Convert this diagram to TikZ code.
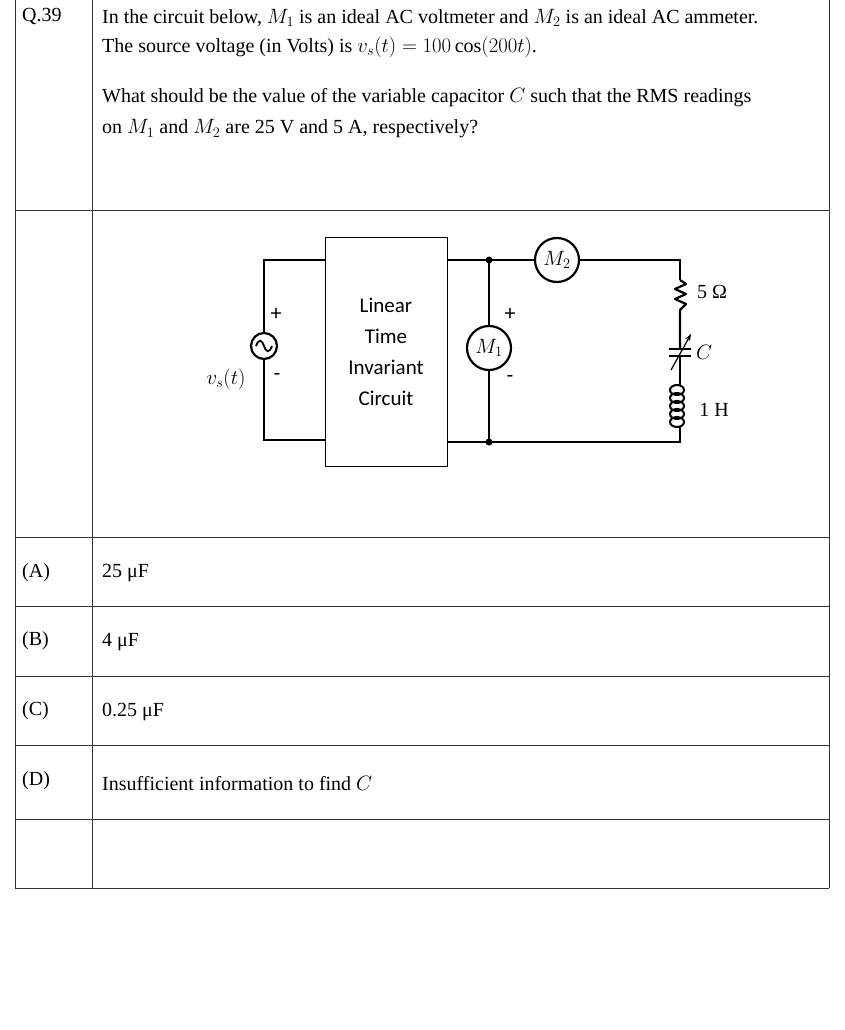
\documentclass[tikz,border=0pt]{standalone}
\usepackage{fontspec}
\setmainfont{Liberation Serif}
\newfontfamily\carl{Carlito}
\usetikzlibrary{arrows.meta}
\begin{document}
\begin{tikzpicture}[x=1pt,y=-1pt,
  grid/.style={draw=black!80,line width=0.8pt},
  wire/.style={line width=2.2pt},
  txt/.style={anchor=west,font=\fontsize{20}{24}\selectfont,inner sep=0},
  lab/.style={font=\fontsize{20}{24}\selectfont},
  meter/.style={circle,draw,line width=2.2pt,fill=white,minimum size=44pt,inner sep=0,font=\fontsize{20}{24}\selectfont}]
\useasboundingbox[fill=white] (0,0) rectangle (845,1030);
% table
\foreach \y in {210,537,606,676,745,819,888} \draw[grid] (15,\y) -- (829,\y);
\draw[grid] (15,0) -- (15,888);
\draw[grid] (92,0) -- (92,888);
\draw[grid] (829,0) -- (829,888);
\node[txt] (q) at (22,17) {Q.39};
\node[txt] (t1) at (102,18) {In the circuit below, $M_1$ is an ideal AC voltmeter and $M_2$ is an ideal AC ammeter.};
\node[txt] (t2) at (102,47) {The source voltage (in Volts) is $v_s(t)=100\cos(200t)$.};
\node[txt] (t3) at (102,98) {What should be the value of the variable capacitor $C$ such that the RMS readings};
\node[txt] (t4) at (102,129) {on $M_1$ and $M_2$ are 25 V and 5 A, respectively?};
\node[txt] (la) at (22,573) {(A)}; \node[txt] (a) at (102,573) {25 μF};
\node[txt] (lb) at (22,641) {(B)}; \node[txt] (b) at (102,642) {4 μF};
\node[txt] (lc) at (22,711) {(C)}; \node[txt] (c) at (102,712) {0.25 μF};
\node[txt] (ld) at (22,781) {(D)}; \node[txt] (d) at (102,784) {Insufficient information to find $C$};
% circuit
\node[draw,line width=1pt,minimum width=122pt,minimum height=229pt,align=center,font=\carl\fontsize{21}{31}\selectfont] (box) at (386,351.5) {Linear\\Time\\Invariant\\Circuit};
\coordinate (lt) at (264,260); \coordinate (lb) at (264,440);
\coordinate (nt) at (489,260); \coordinate (nb) at (489,442);
\coordinate (rt) at (680,260); \coordinate (rb) at (680,442);
\draw[wire] (325,260) -- (lt) -- (lb) -- (325,440);
\draw[wire] (447,260) -- (rt) -- (680,280);
\draw[wire] (447,442) -- (rb) -- (680,427);
\draw[wire] (nt) -- (nb);
\fill (nt) circle (3.5pt); \fill (nb) circle (3.5pt);
\node[circle,draw,line width=2.2pt,fill=white,minimum size=26pt,inner sep=0] (src) at (264,346) {};
\draw[line width=1.8pt] (256,346) .. controls (259,338) and (262,340) .. (264,346) .. controls (266,352) and (269,354) .. (272,346);
\node[meter] (m1) at (489,348) {$M_1$};
\node[meter] (m2) at (557,260) {$M_2$};
% resistor
\draw[wire,line join=round] (680,280) -- (686,284) -- (675,289) -- (686,294) -- (675,299) -- (686,304) -- (680,310) -- (680,348);
% capacitor
\draw[wire] (669,349) -- (691,349); \draw[wire] (669,356) -- (691,356);
\draw[wire] (680,356) -- (680,386);
\draw[line width=1.2pt,-{Stealth[length=7pt]}] (671,370) -- (691,334);
% inductor
\foreach \i in {0,...,4} \draw[line width=2pt] (677,{390+8*\i}) ellipse (7pt and 5pt);
\node[lab] (r5) at (712,292) {5 Ω};
\node[lab] (cl) at (704,352) {$C$};
\node[lab] (lh) at (714,410) {1 H};
\node[font=\carl\fontsize{22}{22}\selectfont] (p1) at (276,314) {+};
\node[font=\carl\fontsize{22}{22}\selectfont] (n1) at (277,377) {-};
\node[font=\carl\fontsize{22}{22}\selectfont] (p2) at (510,314) {+};
\node[font=\carl\fontsize{22}{22}\selectfont] (n2) at (510,379) {-};
\node[font=\fontsize{22}{24}\selectfont] (vs) at (226,379) {$v_s(t)$};
\end{tikzpicture}
\end{document}
